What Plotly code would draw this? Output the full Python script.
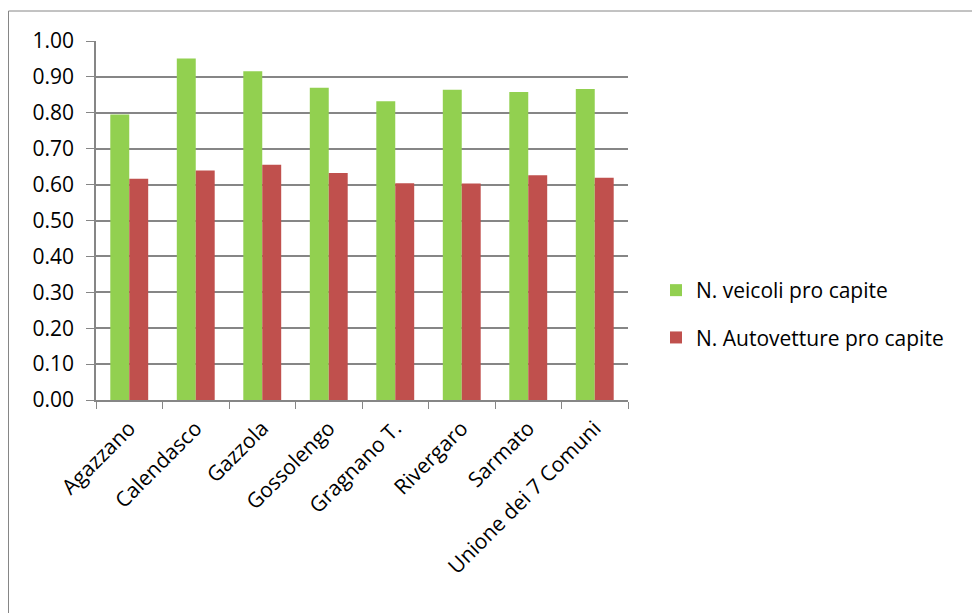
import plotly.graph_objects as go

comuni = ["Agazzano", "Calendasco", "Gazzola", "Gossolengo", "Gragnano T.",
          "Rivergaro", "Sarmato", "Unione dei 7 Comuni"]
veicoli = [0.795, 0.951, 0.916, 0.870, 0.832, 0.864, 0.858, 0.866]
autovetture = [0.616, 0.639, 0.655, 0.632, 0.604, 0.603, 0.626, 0.619]
y_ticks = [0.0, 0.1, 0.2, 0.3, 0.4, 0.5, 0.6, 0.7, 0.8, 0.9, 1.0]

FONT = "Open Sans"
# the page body adds an 8px margin, so work in figure coords = page - 8
W, H = 972, 605
L, R, T, B = 88, 620, 33, 392
FS = 21

fig = go.Figure()
fig.add_trace(go.Bar(x=comuni, y=veicoli, name="N. veicoli pro capite",
                     legendgroup="a",
                     marker=dict(color="#92D050", line=dict(width=0))))
fig.add_trace(go.Bar(x=comuni, y=autovetture, name="N. Autovetture pro capite",
                     legendgroup="b",
                     marker=dict(color="#C0504D", line=dict(width=0))))

pw = R - L
ph = B - T
# outer chart frame (Excel style), partly off the page
fig.add_shape(type="rect", xref="paper", yref="paper",
              x0=(0.5 - L) / pw, x1=(990 - L) / pw,
              y0=(B - 625) / ph, y1=(B - 3) / ph,
              line=dict(color="#868686", width=1), layer="below")

fig.update_layout(
    width=W, height=H,
    margin=dict(l=L, r=W - R, t=T, b=H - B, autoexpand=False),
    paper_bgcolor="white", plot_bgcolor="white",
    barmode="group", bargap=0.43, bargroupgap=0,
    font=dict(family=FONT, size=FS, color="black"),
    showlegend=True,
    legend=dict(x=(648 - L) / pw, y=(B - 262) / ph, xanchor="left", yanchor="top",
                font=dict(size=FS), itemwidth=30, tracegroupgap=17,
                traceorder="grouped",
                bgcolor="rgba(0,0,0,0)"),
    xaxis=dict(tickangle=-45, ticks="outside", tickson="boundaries", ticklen=7,
               ticklabelstandoff=6,
               tickcolor="#868686", showline=True, linecolor="#868686", linewidth=1.5,
               showgrid=False, tickfont=dict(size=FS)),
    yaxis=dict(range=[0, 1.0], tickvals=y_ticks, tickformat=".2f",
               ticks="outside", ticklen=8, ticklabelstandoff=8, tickcolor="#868686",
               showline=True, linecolor="#868686", linewidth=1.5,
               showgrid=True, gridcolor="#868686", gridwidth=1.5,
               zeroline=False, tickfont=dict(size=FS)),
)

fig.write_html("out.html")
